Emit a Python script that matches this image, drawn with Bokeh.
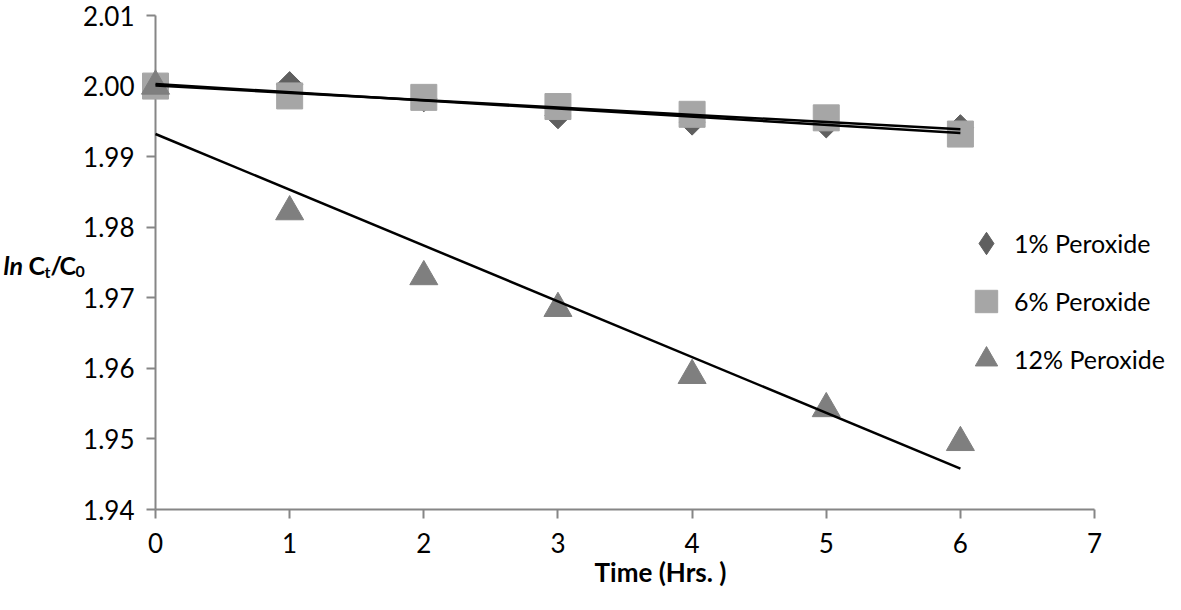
import numpy as np
from bokeh.plotting import figure
from bokeh.models import Range1d, FixedTicker, PrintfTickFormatter, Legend, LegendItem
from bokeh.core.properties import value
from bokeh.embed import file_html
from bokeh.resources import INLINE

# ---- data ----
hours = [0, 1, 2, 3, 4, 5, 6]
perox_1 = [2.0000, 2.0002, 1.9982, 1.9958, 1.9949, 1.9945, 1.9941]
perox_6 = [2.0000, 1.9986, 1.9984, 1.9971, 1.9960, 1.9955, 1.9932]
perox_12 = [2.0000, 1.9822, 1.9730, 1.9685, 1.9590, 1.9543, 1.9495]
series_names = ["1% Peroxide", "6% Peroxide", "12% Peroxide"]
x_ticks = [0, 1, 2, 3, 4, 5, 6, 7]
y_ticks = [1.94, 1.95, 1.96, 1.97, 1.98, 1.99, 2.00, 2.01]
x_title = "Time (Hrs. )"

FONT = "Lato"
AXIS_GREY = "#868686"
C1, C6, C12 = "#5F5F5F", "#A6A6A6", "#7F7F7F"
W, H = 1165, 594
LEFT, TOP, BOTTOM = 155, 15, 85
PX_PER_X = 134.15
X_END = 7 + (W - LEFT - 7 * PX_PER_X) / PX_PER_X

p = figure(width=W, height=H, output_backend="svg", toolbar_location=None,
           x_range=Range1d(0, X_END), y_range=Range1d(1.94, 2.01),
           min_border_left=LEFT, min_border_right=0, min_border_top=TOP, min_border_bottom=BOTTOM)
p.xgrid.visible = False
p.ygrid.visible = False
p.outline_line_color = None
p.background_fill_color = "white"
p.border_fill_color = "white"

for ax in (p.xaxis[0], p.yaxis[0]):
    ax.axis_line_color = AXIS_GREY
    ax.axis_line_width = 2
    ax.major_tick_line_color = AXIS_GREY
    ax.major_tick_line_width = 2
    ax.major_tick_in = 0
    ax.major_tick_out = 9
    ax.minor_tick_line_color = None
    ax.major_label_text_font = FONT
    ax.major_label_text_font_size = "26px"
    ax.major_label_text_color = "black"

p.xaxis.ticker = FixedTicker(ticks=x_ticks)
p.xaxis.bounds = (0, 7)
p.xaxis.major_label_standoff = 14
p.xaxis.axis_label = x_title
p.xaxis.axis_label_text_font = FONT
p.xaxis.axis_label_text_font_style = "bold"
p.xaxis.axis_label_text_font_size = "26px"
p.xaxis.axis_label_text_color = "black"
p.xaxis.axis_label_standoff = 0

p.yaxis.ticker = FixedTicker(ticks=y_ticks)
p.yaxis.formatter = PrintfTickFormatter(format="%.2f")
p.yaxis.major_label_standoff = 12

# legend swatch for the diamond series (legend glyphs are never rotated);
# drawn underneath the rotated squares, which hide it completely
r1_key = p.scatter(hours, perox_1, marker="diamond", size=18, fill_color=C1, line_color=C1)

r1 = p.scatter(hours, perox_1, marker="square", angle=np.pi / 4, size=18.5,
               fill_color=C1, line_color=C1, level="overlay")
r6 = p.scatter(hours, perox_6, marker="square", size=26,
               fill_color=C6, line_color=C6, level="overlay")
r12 = p.scatter(hours, perox_12, marker="triangle", size=28,
                fill_color=C12, line_color=C12, level="overlay")

for vals in (perox_1, perox_6, perox_12):
    coef = np.polyfit(hours, vals, 1)
    xs = [hours[0], hours[-1]]
    ys = list(np.polyval(coef, xs))
    p.line(xs, ys, line_color="black", line_width=2.5, level="overlay")

legend = Legend(items=[LegendItem(label=n, renderers=[r]) for n, r in zip(series_names, (r1_key, r6, r12))],
                location=(803, 122), glyph_width=56, glyph_height=56, label_height=56,
                spacing=2, padding=0, margin=0, label_standoff=-11,
                label_text_font=FONT, label_text_font_size="25px", label_text_color="black",
                border_line_alpha=0, background_fill_alpha=0)
p.add_layout(legend, "center")

# y-axis title "ln Ct/C0" built from text pieces (outside the frame, unclipped)
def px_x(ix):
    return (ix - LEFT) / PX_PER_X

def px_y(iy):
    return 2.01 - (iy - TOP) * 0.07 / 494.0

pieces = [
    ("ln", 3, 264, "25px", "bold italic"),
    ("C", 28, 264, "25px", "bold"),
    ("t", 44, 271, "16px", "bold"),
    ("/", 50, 264, "25px", "bold"),
    ("C", 59, 264, "25px", "bold"),
    ("0", 75, 271, "16px", "bold"),
]
for txt, ix, iy, fs, style in pieces:
    p.text(x=[px_x(ix)], y=[px_y(iy)], text=[txt], text_font=value(FONT), text_font_size=fs,
           text_font_style=style, text_color="black", text_baseline="alphabetic",
           text_align="left", level="overlay")

open("out.html", "w").write(file_html(p, INLINE))
